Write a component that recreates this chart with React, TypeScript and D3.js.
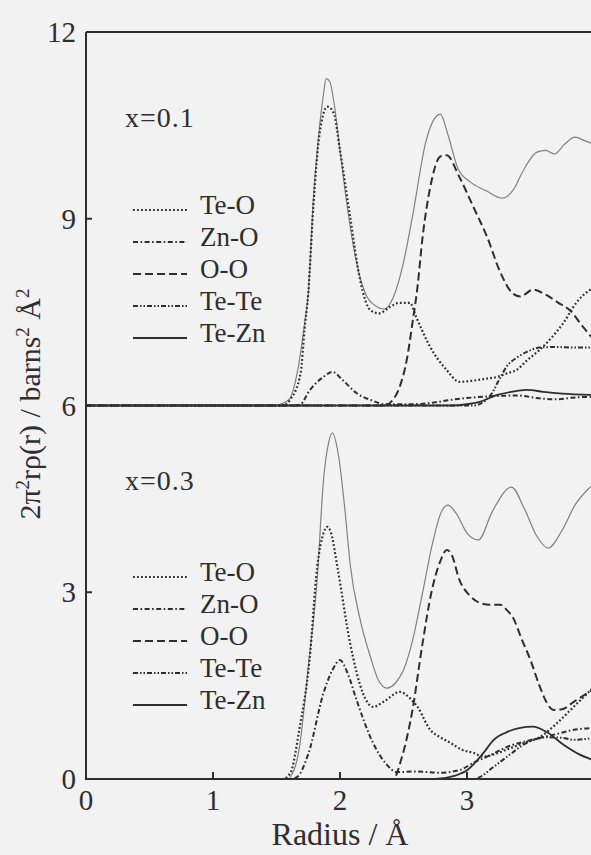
import React from "react";
import * as d3 from "d3";

type P = [number, number];

// ---- x = 0.1 (offset 6) ----
const totalA: P[] = [[1.5,6],[1.6,6.1],[1.67,6.6],[1.72,7.3],[1.75,7.8],[1.79,9.3],[1.83,10.3],[1.87,11.0],[1.89,11.25],[1.92,11.2],[1.95,10.9],[2.0,10.1],[2.05,9.3],[2.12,8.4],[2.2,7.8],[2.28,7.6],[2.35,7.55],[2.42,7.74],[2.5,8.3],[2.57,9.03],[2.68,10.27],[2.76,10.65],[2.79,10.68],[2.85,10.35],[2.93,9.8],[3.02,9.6],[3.15,9.45],[3.28,9.33],[3.36,9.45],[3.45,9.8],[3.55,10.07],[3.62,10.1],[3.69,10.04],[3.77,10.2],[3.85,10.31],[3.93,10.25],[4.0,10.2]];
const teOA: P[] = [[0,6],[1.55,6],[1.61,6.1],[1.69,6.52],[1.72,7.21],[1.75,7.8],[1.79,9.2],[1.84,10.38],[1.9,10.8],[1.95,10.7],[2.0,10.1],[2.08,9.03],[2.16,8.0],[2.24,7.53],[2.31,7.48],[2.39,7.58],[2.47,7.65],[2.55,7.65],[2.6,7.42],[2.71,6.94],[2.84,6.57],[2.94,6.38],[3.05,6.4],[3.15,6.43],[3.24,6.46],[3.32,6.52],[3.39,6.57],[3.47,6.72],[3.57,6.89],[3.67,7.1],[3.76,7.33],[3.86,7.65],[4.0,7.9]];
const znOA: P[] = [[0,6],[1.65,6],[1.69,6.02],[1.76,6.24],[1.87,6.46],[1.94,6.54],[2.02,6.41],[2.13,6.2],[2.24,6.09],[2.37,6.02],[2.55,6.02],[2.71,6.04],[2.87,6.09],[3.0,6.12],[3.2,6.15],[3.4,6.16],[3.55,6.12],[3.7,6.1],[3.85,6.13],[4.0,6.14]];
const oOA: P[] = [[0,6],[2.35,6.0],[2.42,6.1],[2.47,6.3],[2.53,6.78],[2.57,7.32],[2.61,7.9],[2.65,8.7],[2.71,9.5],[2.79,10.0],[2.84,10.02],[2.94,9.67],[3.05,9.19],[3.16,8.7],[3.26,8.15],[3.36,7.8],[3.42,7.75],[3.52,7.86],[3.62,7.78],[3.72,7.65],[3.81,7.53],[3.9,7.3],[4.0,7.05]];
const teTeA: P[] = [[0,6],[3.05,6.0],[3.18,6.15],[3.25,6.4],[3.31,6.62],[3.4,6.78],[3.47,6.86],[3.57,6.93],[3.7,6.94],[3.85,6.93],[4.0,6.93]];
const teZnA: P[] = [[0,6],[2.88,6.0],[3.0,6.02],[3.1,6.06],[3.24,6.17],[3.35,6.22],[3.47,6.25],[3.6,6.22],[3.75,6.19],[4.0,6.17]];

// ---- x = 0.3 (offset 0) ----
const totalB: P[] = [[1.6,0],[1.68,0.5],[1.75,1.8],[1.82,3.2],[1.87,4.8],[1.91,5.4],[1.94,5.56],[1.99,5.17],[2.04,4.3],[2.08,3.45],[2.16,2.55],[2.24,1.96],[2.3,1.6],[2.37,1.46],[2.44,1.55],[2.5,1.75],[2.58,2.3],[2.65,2.99],[2.73,3.8],[2.8,4.3],[2.85,4.4],[2.92,4.25],[3.0,3.95],[3.09,3.84],[3.2,4.3],[3.35,4.69],[3.45,4.35],[3.55,3.9],[3.64,3.71],[3.75,4.0],[3.85,4.4],[3.97,4.69],[4.0,4.75]];
const teOB: P[] = [[0,0],[1.55,0],[1.61,0.1],[1.68,0.8],[1.76,1.91],[1.82,3.4],[1.87,3.95],[1.9,4.05],[1.93,3.95],[1.98,3.4],[2.08,2.18],[2.18,1.38],[2.26,1.16],[2.35,1.25],[2.47,1.4],[2.55,1.3],[2.61,1.16],[2.71,0.79],[2.79,0.67],[2.87,0.58],[2.96,0.47],[3.05,0.42],[3.13,0.36],[3.22,0.4],[3.31,0.47],[3.45,0.58],[3.57,0.67],[3.71,0.9],[3.84,1.16],[4.0,1.48]];
const znOB: P[] = [[0,0],[1.6,0],[1.66,0.03],[1.75,0.4],[1.87,1.38],[1.94,1.75],[2.0,1.91],[2.06,1.7],[2.13,1.27],[2.26,0.58],[2.36,0.25],[2.45,0.11],[2.6,0.12],[2.79,0.1],[2.95,0.15],[3.05,0.26],[3.18,0.38],[3.31,0.51],[3.45,0.6],[3.57,0.66],[3.7,0.72],[3.84,0.79],[4.0,0.82]];
const oOB: P[] = [[0,0],[2.42,0],[2.48,0.3],[2.57,1.1],[2.65,2.18],[2.72,3.0],[2.79,3.5],[2.84,3.68],[2.88,3.6],[2.94,3.2],[3.02,2.95],[3.1,2.83],[3.18,2.8],[3.26,2.8],[3.32,2.7],[3.36,2.6],[3.43,2.25],[3.5,1.91],[3.57,1.5],[3.63,1.22],[3.68,1.11],[3.75,1.12],[3.84,1.24],[4.0,1.45]];
const teTeB: P[] = [[0,0],[3.05,0],[3.1,0.03],[3.2,0.18],[3.31,0.35],[3.47,0.58],[3.63,0.67],[3.75,0.66],[3.84,0.63],[4.0,0.66]];
const teZnB: P[] = [[0,0],[2.75,0],[2.9,0.05],[3.0,0.14],[3.13,0.42],[3.21,0.63],[3.31,0.75],[3.42,0.82],[3.52,0.84],[3.63,0.75],[3.76,0.55],[3.88,0.4],[4.0,0.3]];

const legendLabels = ["Te-O", "Zn-O", "O-O", "Te-Te", "Te-Zn"];
const panelLabels = ["x=0.1", "x=0.3"];
const xTicks = [0, 1, 2, 3];
const yTicks = [0, 3, 6, 9, 12];

const W = 591, H = 855;
const INK = "#2e2e2e";
const dashes = ["1.8,2.2", "5,2.5,1.6,2.5", "8,4", "5,2,1.5,2,1.5,2", ""];
const widths = [2.2, 2, 2, 2, 1.8];

export default function App() {
  const x = d3.scaleLinear().domain([0, 4]).range([86, 594]);
  const y = d3.scaleLinear().domain([0, 12]).range([779, 32]);
  const line = d3.line<P>().x(d => x(d[0])).y(d => y(d[1])).curve(d3.curveMonotoneX);

  const panels = [
    { parts: [teOA, znOA, oOA, teTeA, teZnA], total: totalA, legendTop: 210, labelY: 127 },
    { parts: [teOB, znOB, oOB, teTeB, teZnB], total: totalB, legendTop: 577, labelY: 490 },
  ];
  const font = "'Liberation Serif', 'Times New Roman', serif";

  return (
    <svg width={W} height={H} style={{ position: "absolute", left: 0, top: 0 }} fontFamily={font}>
      <rect x={0} y={0} width={W} height={H} fill="#f2f2f3" />
      {panels.map((p, pi) => (
        <g key={pi}>
          <path d={line(p.total) || ""} fill="none" stroke="#808080" strokeWidth={1.2} />
          {p.parts.map((s, si) => (
            <path key={si} d={line(s) || ""} fill="none" stroke={INK} strokeWidth={widths[si]}
              strokeDasharray={dashes[si] || undefined} />
          ))}
          <text x={125} y={p.labelY} fontSize={28} fill={INK} letterSpacing={1}>{panelLabels[pi]}</text>
          {legendLabels.map((lab, li) => {
            const ly = p.legendTop + li * 32;
            return (
              <g key={lab}>
                <line x1={133} x2={187} y1={ly} y2={ly} stroke={INK} strokeWidth={widths[li]}
                  strokeDasharray={dashes[li] || undefined} />
                <text x={200} y={ly + 4} fontSize={27} fill={INK}>{lab}</text>
              </g>
            );
          })}
        </g>
      ))}
      {/* frame */}
      <line x1={86} x2={W} y1={32} y2={32} stroke={INK} strokeWidth={2} />
      <line x1={86} x2={86} y1={32} y2={780} stroke={INK} strokeWidth={2} />
      <line x1={86} x2={W} y1={779} y2={779} stroke={INK} strokeWidth={2} />
      {yTicks.map(t => (
        <g key={t}>
          <line x1={86} x2={92} y1={y(t)} y2={y(t)} stroke={INK} strokeWidth={2} />
          <text x={76} y={y(t)} fontSize={29} fill={INK} textAnchor="end" dominantBaseline="central">{t}</text>
        </g>
      ))}
      {xTicks.map(t => (
        <g key={t}>
          {t > 0 && <line x1={x(t)} x2={x(t)} y1={779} y2={772} stroke={INK} strokeWidth={2} />}
          <text x={x(t)} y={810} fontSize={29} fill={INK} textAnchor="middle">{t}</text>
        </g>
      ))}
      <text x={x(2)} y={845} fontSize={32} fill={INK} textAnchor="middle">Radius / Å</text>
      <text transform={`translate(40,404) rotate(-90)`} fontSize={30} fill={INK} textAnchor="middle">
        2π<tspan fontSize={19} dy={-11}>2</tspan><tspan dy={11}>rρ(r) / barns</tspan>
        <tspan fontSize={19} dy={-11}>2</tspan><tspan dy={11}> Å</tspan>
        <tspan fontSize={19} dy={-11}>2</tspan>
      </text>
    </svg>
  );
}
